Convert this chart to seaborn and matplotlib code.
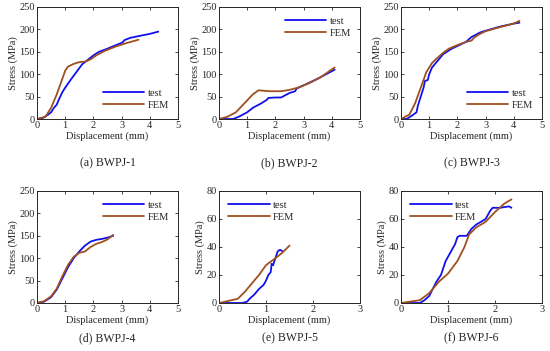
import numpy as np
import pandas as pd
import matplotlib.pyplot as plt
import seaborn as sns

sns.set_style("ticks")
plt.rcParams['font.family'] = ['Liberation Serif', 'DejaVu Serif']
plt.rcParams['xtick.direction'] = 'in'
plt.rcParams['ytick.direction'] = 'in'

BLUE = '#1010F0'
BROWN = '#A0501E'

# ---- data ----
a_test_x = [0, 0.2, 0.4, 0.5, 0.6, 0.7, 0.75, 0.9, 1.0, 1.2, 1.4, 1.6, 1.8, 2.0, 2.2, 2.5, 2.8, 3.0, 3.05, 3.1, 3.3, 3.6, 4.0, 4.3]
a_test_y = [0, 2, 10, 15, 25, 32, 40, 60, 70, 88, 105, 122, 132, 142, 150, 157, 165, 170, 172, 176, 181, 185, 190, 195]
a_fem_x = [0, 0.3, 0.5, 0.7, 0.9, 1.0, 1.1, 1.3, 1.5, 1.7, 1.9, 2.1, 2.4, 2.8, 3.2, 3.6]
a_fem_y = [0, 5, 25, 55, 90, 108, 117, 123, 127, 128, 133, 142, 152, 162, 170, 177]

b_test_x = [0, 0.5, 0.7, 1.0, 1.2, 1.5, 1.7, 1.75, 2.0, 2.2, 2.5, 2.7, 2.75, 3.0, 3.5, 4.1]
b_test_y = [0, 0, 5, 15, 25, 35, 43, 47, 48, 48, 58, 62, 68, 75, 90, 110]
b_fem_x = [0, 0.3, 0.6, 0.9, 1.2, 1.4, 1.6, 1.8, 2.2, 2.5, 2.8, 3.2, 3.6, 4.1]
b_fem_y = [0, 5, 15, 35, 55, 64, 63, 62, 62, 65, 70, 80, 93, 115]

c_test_x = [0, 0.2, 0.4, 0.55, 0.6, 0.7, 0.8, 0.85, 0.95, 1.0, 1.1, 1.3, 1.5, 1.8, 2.0, 2.3, 2.5, 2.8, 3.0, 3.5, 4.0, 4.2]
c_test_y = [0, 0, 8, 15, 30, 50, 70, 85, 87, 100, 115, 130, 145, 157, 163, 172, 183, 193, 197, 206, 213, 215]
c_fem_x = [0, 0.3, 0.5, 0.7, 0.9, 1.1, 1.3, 1.5, 1.7, 2.0, 2.3, 2.5, 2.6, 2.8, 3.0, 3.5, 4.0, 4.2]
c_fem_y = [0, 10, 35, 70, 105, 125, 137, 148, 157, 165, 172, 175, 182, 190, 196, 205, 213, 219]

d_test_x = [0, 0.25, 0.5, 0.7, 0.9, 1.1, 1.3, 1.5, 1.7, 1.9, 2.1, 2.3, 2.5, 2.7]
d_test_y = [0, 3, 13, 30, 55, 80, 100, 115, 128, 137, 141, 143, 146, 150]
d_fem_x = [0, 0.25, 0.5, 0.7, 0.9, 1.1, 1.3, 1.5, 1.7, 1.9, 2.1, 2.3, 2.5, 2.7]
d_fem_y = [0, 4, 15, 32, 60, 85, 103, 112, 115, 125, 132, 136, 142, 152]

e_test_x = [0, 0.5, 0.6, 0.65, 0.75, 0.85, 0.95, 1.0, 1.05, 1.1, 1.12, 1.15, 1.2, 1.25, 1.3, 1.35]
e_test_y = [0, 0, 1, 3, 6, 10, 13, 16, 20, 22, 28, 27, 32, 37, 38, 37]
e_fem_x = [0, 0.4, 0.55, 0.7, 0.85, 1.0, 1.2, 1.35, 1.5]
e_fem_y = [0, 3, 8, 14, 20, 27, 32, 36, 41]

f_test_x = [0, 0.4, 0.5, 0.6, 0.75, 0.85, 0.95, 1.05, 1.15, 1.2, 1.25, 1.4, 1.5, 1.6, 1.8, 1.9, 1.95, 2.1, 2.3, 2.35]
f_test_y = [0, 0, 2, 5, 15, 20, 30, 36, 42, 47, 48, 48, 53, 56, 60, 66, 68, 68, 69, 68]
f_fem_x = [0, 0.4, 0.6, 0.8, 1.0, 1.2, 1.35, 1.45, 1.6, 1.8, 2.0, 2.2, 2.35]
f_fem_y = [0, 2, 7, 15, 21, 30, 40, 49, 54, 58, 65, 71, 74]

panels = [
    ("(a) BWPJ-1", a_test_x, a_test_y, a_fem_x, a_fem_y, 5, 250, 50, "lower right"),
    ("(b) BWPJ-2", b_test_x, b_test_y, b_fem_x, b_fem_y, 5, 250, 50, "upper right"),
    ("(c) BWPJ-3", c_test_x, c_test_y, c_fem_x, c_fem_y, 5, 250, 50, "lower right"),
    ("(d) BWPJ-4", d_test_x, d_test_y, d_fem_x, d_fem_y, 5, 250, 50, "upper right"),
    ("(e) BWPJ-5", e_test_x, e_test_y, e_fem_x, e_fem_y, 3, 80, 20, "upper left"),
    ("(f) BWPJ-6", f_test_x, f_test_y, f_fem_x, f_fem_y, 3, 80, 20, "upper left"),
]

W, H = 550, 351
fig = plt.figure(figsize=(W / 100, H / 100), dpi=100)

lefts = [37, 219, 401]
tops = [7, 191]
aw, ah = 141, 112
cap_y = [163, 338]

for i, (cap, tx, ty, fx, fy, xmax, ymax, ystep, loc) in enumerate(panels):
    r, c = divmod(i, 3)
    ax = fig.add_axes([lefts[c] / W, (H - tops[r] - ah) / H, aw / W, ah / H])
    df = pd.concat([
        pd.DataFrame({"x": tx, "y": ty, "s": "test"}),
        pd.DataFrame({"x": fx, "y": fy, "s": "FEM"}),
    ])
    sns.lineplot(data=df, x="x", y="y", hue="s", palette={"test": BLUE, "FEM": BROWN},
                 sort=False, estimator=None, lw=1.3, ax=ax)
    ax.set_xlim(0, xmax)
    ax.set_ylim(0, ymax)
    ax.set_xticks(range(0, xmax + 1))
    ax.set_yticks(np.arange(0, ymax + 1, ystep))
    ax.tick_params(labelsize=7.5, length=2.5, width=0.6, pad=1.5, top=True, right=True)
    for s in ax.spines.values():
        s.set_linewidth(0.7)
    ax.set_xlabel("Displacement (mm)", fontsize=7.5, labelpad=1)
    ax.set_ylabel("Stress (MPa)", fontsize=7.5, labelpad=1)
    ax.legend(loc=loc, frameon=False, fontsize=7.5, handlelength=4, handletextpad=0.3,
              labelspacing=0.25, borderaxespad=0.5)
    fig.text((lefts[c] + aw / 2) / W, 1 - cap_y[r] / H, cap, ha="center", va="center", fontsize=8.5)

fig.savefig("out.png", dpi=100)
